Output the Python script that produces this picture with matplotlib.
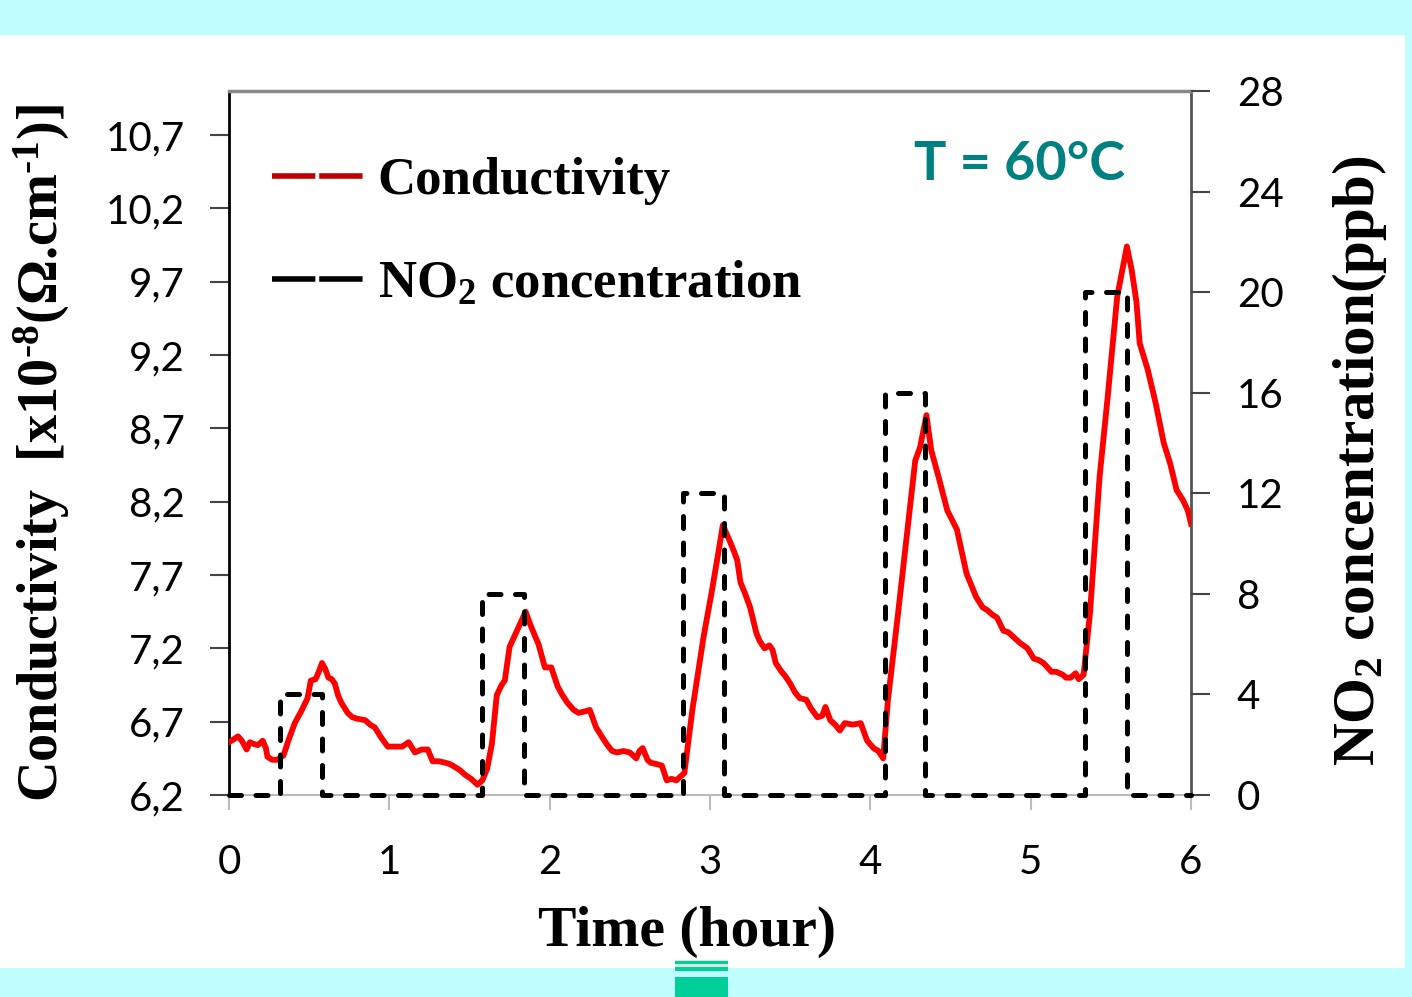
import numpy as np
import matplotlib
matplotlib.use("Agg")
import matplotlib.pyplot as plt
from matplotlib.lines import Line2D
from matplotlib.patches import Rectangle

# ── data ──────────────────────────────────────────────────────────────────
cond_t = [0.00, 0.03, 0.056, 0.08, 0.11, 0.13, 0.15, 0.18, 0.21, 0.23, 0.24, 0.27,
          0.30, 0.34, 0.37, 0.41, 0.45, 0.49, 0.51, 0.54, 0.56, 0.58, 0.60, 0.62,
          0.64, 0.66, 0.68, 0.70, 0.74, 0.77, 0.80, 0.85, 0.88, 0.91, 0.95, 0.99,
          1.03, 1.08, 1.12, 1.16, 1.20, 1.24, 1.27, 1.31, 1.35, 1.38, 1.41, 1.44,
          1.47, 1.51, 1.55, 1.58, 1.61, 1.64, 1.67, 1.70, 1.72, 1.75, 1.80, 1.85,
          1.88, 1.91, 1.93, 1.97, 2.01, 2.05, 2.08, 2.11, 2.15, 2.18, 2.22, 2.25,
          2.29, 2.33, 2.36, 2.39, 2.42, 2.46, 2.50, 2.54, 2.56, 2.58, 2.61, 2.63,
          2.67, 2.70, 2.73, 2.76, 2.79, 2.81, 2.84, 2.89, 2.96, 3.01, 3.05, 3.08,
          3.12, 3.15, 3.17, 3.19, 3.22, 3.25, 3.29, 3.31, 3.34, 3.37, 3.39, 3.41,
          3.44, 3.47, 3.50, 3.53, 3.56, 3.60, 3.63, 3.67, 3.70, 3.72, 3.75, 3.78,
          3.81, 3.84, 3.89, 3.94, 3.98, 4.02, 4.05, 4.08, 4.11, 4.17, 4.23, 4.28,
          4.31, 4.35, 4.38, 4.43, 4.48, 4.54, 4.60, 4.63, 4.66, 4.70, 4.73, 4.76,
          4.79, 4.83, 4.86, 4.89, 4.93, 4.98, 5.02, 5.05, 5.08, 5.13, 5.16, 5.20,
          5.22, 5.25, 5.28, 5.30, 5.33, 5.37, 5.43, 5.48, 5.54, 5.60, 5.63, 5.66,
          5.68, 5.73, 5.78, 5.83, 5.87, 5.91, 5.95, 5.98, 6.00]
cond_v = [6.56, 6.58, 6.60, 6.57, 6.51, 6.56, 6.55, 6.54, 6.57, 6.52, 6.46, 6.44,
          6.44, 6.47, 6.57, 6.69, 6.77, 6.86, 6.98, 6.99, 7.04, 7.10, 7.06, 7.00,
          6.99, 6.96, 6.88, 6.83, 6.76, 6.73, 6.72, 6.71, 6.68, 6.66, 6.59, 6.53,
          6.53, 6.53, 6.56, 6.49, 6.51, 6.51, 6.43, 6.43, 6.42, 6.41, 6.39, 6.37,
          6.34, 6.31, 6.27, 6.30, 6.38, 6.55, 6.88, 6.95, 6.98, 7.21, 7.33, 7.45,
          7.36, 7.28, 7.23, 7.07, 7.07, 6.94, 6.88, 6.83, 6.78, 6.76, 6.77, 6.78,
          6.66, 6.59, 6.54, 6.50, 6.49, 6.50, 6.49, 6.45, 6.50, 6.52, 6.44, 6.42,
          6.41, 6.40, 6.30, 6.31, 6.30, 6.32, 6.35, 6.78, 7.28, 7.58, 7.84, 8.04,
          7.94, 7.86, 7.80, 7.65, 7.57, 7.48, 7.30, 7.25, 7.20, 7.22, 7.19, 7.10,
          7.05, 7.01, 6.96, 6.90, 6.86, 6.85, 6.79, 6.73, 6.74, 6.80, 6.71, 6.68,
          6.64, 6.69, 6.68, 6.69, 6.57, 6.52, 6.50, 6.45, 6.85, 7.41, 7.99, 8.48,
          8.57, 8.79, 8.55, 8.35, 8.14, 8.01, 7.71, 7.63, 7.55, 7.48, 7.46, 7.43,
          7.41, 7.32, 7.31, 7.28, 7.24, 7.20, 7.13, 7.12, 7.10, 7.04, 7.04, 7.02,
          7.00, 7.00, 7.03, 6.99, 7.02, 7.44, 8.37, 8.91, 9.60, 9.94, 9.78, 9.56,
          9.28, 9.10, 8.87, 8.60, 8.46, 8.28, 8.21, 8.14, 8.05]

pulse_on = [0.32, 1.58, 2.83, 4.09, 5.34]
pulse_off = [0.58, 1.84, 3.09, 4.34, 5.60]
pulse_ppb = [4, 8, 12, 16, 20]
t_end = 6.0

x_ticks = [0, 1, 2, 3, 4, 5, 6]
cond_ticks = [6.2, 6.7, 7.2, 7.7, 8.2, 8.7, 9.2, 9.7, 10.2, 10.7]
cond_labels = ["6,2", "6,7", "7,2", "7,7", "8,2", "8,7", "9,2", "9,7", "10,2", "10,7"]
no2_ticks = [0, 4, 8, 12, 16, 20, 24, 28]

# step profile of the NO2 pulses
no2_t, no2_c = [0.0], [0]
for on, off, c in zip(pulse_on, pulse_off, pulse_ppb):
    no2_t += [on, on, off, off]
    no2_c += [0, c, c, 0]
no2_t.append(t_end)
no2_c.append(0)

# ── style ─────────────────────────────────────────────────────────────────
plt.rcParams["mathtext.fontset"] = "custom"
plt.rcParams["mathtext.rm"] = "Liberation Serif:bold"
plt.rcParams["mathtext.bf"] = "Liberation Serif:bold"
plt.rcParams["mathtext.default"] = "bf"

CYAN = "#C0FFFF"
RED = "#FF0000"
TEAL = "#008080"
TICK_FONT = dict(family="Lato", size=29)
SERIF = dict(family="Liberation Serif", weight="bold")

W, H = 1412, 997
fig = plt.figure(figsize=(W / 100, H / 100), dpi=100, facecolor=CYAN)
fig.patches.append(Rectangle((0, 29 / H), 1405 / W, 933 / H, transform=fig.transFigure,
                             fc="white", ec="none", zorder=-5))
# small green marker at the bottom edge
fig.patches.append(Rectangle((675 / W, 26 / H), 53 / W, 11 / H, transform=fig.transFigure,
                             fc="#D8E8E0", ec="none", zorder=1))
for y_top, h in [(961, 3), (967, 3.5), (977, 20)]:
    fig.patches.append(Rectangle((675 / W, 1 - (y_top + h) / H), 53 / W, h / H,
                                 transform=fig.transFigure, fc="#00CF9A",
                                 ec="none", zorder=2))

ax = fig.add_axes([229 / W, 1 - 795 / H, 962 / W, 704 / H])
ax.set_facecolor("none")
ax2 = ax.twinx()

ax.plot(cond_t, cond_v, color=RED, lw=4.2, solid_joinstyle="round", zorder=3)
ax2.plot(no2_t, no2_c, color="black", lw=3.6, dashes=(2.4, 2.9),
         dash_capstyle="round", clip_on=False, zorder=4)

ax.set_xlim(0, 6)
ax.set_ylim(6.2, 11.0)
ax2.set_ylim(0, 28)

ax.set_xticks(x_ticks)
ax.set_xticklabels([str(v) for v in x_ticks], **TICK_FONT)
ax.set_yticks(cond_ticks)
ax.set_yticklabels(cond_labels, **TICK_FONT)
ax2.set_yticks(no2_ticks)
ax2.set_yticklabels([str(v) for v in no2_ticks], **TICK_FONT)

ax.tick_params(axis="x", direction="out", length=11, width=1.5, color="#BBBBBB", pad=24)
ax.tick_params(axis="y", direction="out", length=14, width=1.5, color="#444444", pad=18)
ax2.tick_params(axis="y", direction="out", length=14, width=1.5, color="#444444", pad=19)

for sp in ax2.spines.values():
    sp.set_visible(False)
ax.spines["left"].set_color("black")
ax.spines["left"].set_linewidth(2)
ax.spines["right"].set_color("#555555")
ax.spines["right"].set_linewidth(2)
ax.spines["top"].set_color("#888888")
ax.spines["top"].set_linewidth(2.5)
ax.spines["bottom"].set_color("#BBBBBB")
ax.spines["bottom"].set_linewidth(1.5)

ax.set_xlabel("Time (hour)", fontsize=41.5, **SERIF)
ax.xaxis.set_label_coords(0.476, -0.157)
ax.set_ylabel("Conductivity  [x10$^{\\text{-8}}$(\u03a9.cm$^{\\text{-1}}$)]",
              fontsize=40.5, **SERIF)
ax.yaxis.set_label_coords(-0.163, 0.486)
ax2.set_ylabel("NO$_{2}$ concentration(ppb)", fontsize=42.5, **SERIF)
ax2.yaxis.set_label_coords(1.144, 0.475)

handles = [Line2D([], [], color="#C00000", lw=4, dashes=(7.8, 0.7)),
           Line2D([], [], color="black", lw=4, dashes=(7.8, 0.7))]
ax.legend(handles, ["Conductivity", "NO$_{2}$ concentration"],
          loc="upper left", bbox_to_anchor=(0.045, 0.906), frameon=False,
          prop=dict(family="Liberation Serif", weight="bold", size=38),
          handlelength=1.75, handletextpad=0.25, labelspacing=1.05,
          borderpad=0, borderaxespad=0)

ax.text(0.932, 0.896, "T = 60°C", transform=ax.transAxes, ha="right", va="center",
        color=TEAL, fontsize=39, fontweight="bold", family="Lato")

fig.savefig("out.png", dpi=100, facecolor=CYAN)
